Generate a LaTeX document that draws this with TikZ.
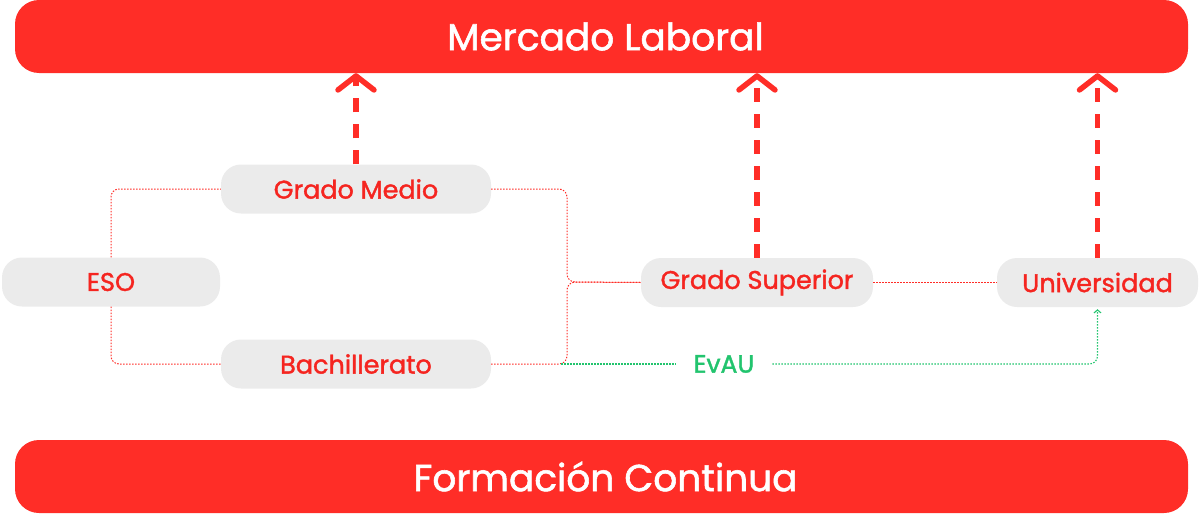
\documentclass[tikz,border=0pt]{standalone}
\usepackage{fontspec}
\setmainfont{Poppins}[FakeBold=1.5]
\newfontfamily\medfont{Poppins}[FakeBold=1.5]
\usetikzlibrary{arrows.meta}
\definecolor{bred}{HTML}{FF2D27}
\definecolor{tred}{HTML}{F52520}
\definecolor{ngray}{HTML}{EBEBEB}
\definecolor{egreen}{HTML}{22C46E}
\begin{document}
\begin{tikzpicture}[x=1pt,y=-1pt,
  bar/.style={fill=bred, rounded corners=24pt, minimum width=1173pt, minimum height=73pt,
    text=white, font=\medfont\fontsize{37.5}{44}\selectfont, inner sep=0pt},
  box/.style={fill=ngray, rounded corners=20pt, minimum height=49pt, text=tred,
    font=\medfont\fontsize{25.5}{30}\selectfont, inner sep=0pt},
  dotline/.style={draw=bred, line width=1pt, dash pattern=on 1.5pt off 1.5pt, rounded corners=8pt},
  greenline/.style={draw=egreen, line width=1.1pt, dash pattern=on 1.5pt off 1.5pt, rounded corners=8pt},
  uparrow/.style={draw=bred, line width=5.5pt, dash pattern=on 14pt off 12pt,
    -{Straight Barb[length=14pt,width=36pt,round]}}
]
\path[use as bounding box] (0,0) rectangle (1200,514);
\node[bar] (ml) at (601.5,36.5) {\hspace*{8pt}Mercado Laboral};
\node[bar] (fc) at (601.5,476.5) {\hspace*{8pt}Formación Continua};
\node[box, minimum width=218pt] (eso) at (111,282) {ESO};
\node[box, minimum width=270pt] (gm) at (356,189) {Grado Medio};
\node[box, minimum width=270pt] (ba) at (356,364) {Bachillerato};
\node[box, minimum width=232pt] (gs) at (757,282.5) {Grado Superior};
\node[box, minimum width=201pt] (un) at (1097.5,282.5) {Universidad};
\node[text=egreen, font=\medfont\fontsize{25}{30}\selectfont, inner xsep=18pt, inner ysep=0pt] (ev) at (724,364) {EvAU};
\coordinate (gstart) at (561,364);
% red dotted connectors
\draw[dotline] (eso.north) |- (gm.west);
\draw[dotline] (eso.south) |- (ba.west);
\draw[dotline] (gm.east) -- (567,189) -- (567,282) -- (gs.west);
\draw[dotline] (ba.east) -- (567,364) -- (567,282) -- (gs.west);
\draw[dotline] (gs.east) -- (un.west);
% green EvAU
\draw[greenline] (gstart) -- (ev.west);
\draw[greenline, -{Straight Barb[length=3pt,width=7pt]}] (ev.east) -| ([yshift=-2pt]un.south);
% dashed arrows up
\draw[uparrow] (gm.north) -- (gm.north |- ml.south);
\draw[uparrow] (gs.north) -- (gs.north |- ml.south);
\draw[uparrow] (un.north) -- (un.north |- ml.south);
\end{tikzpicture}
\end{document}
